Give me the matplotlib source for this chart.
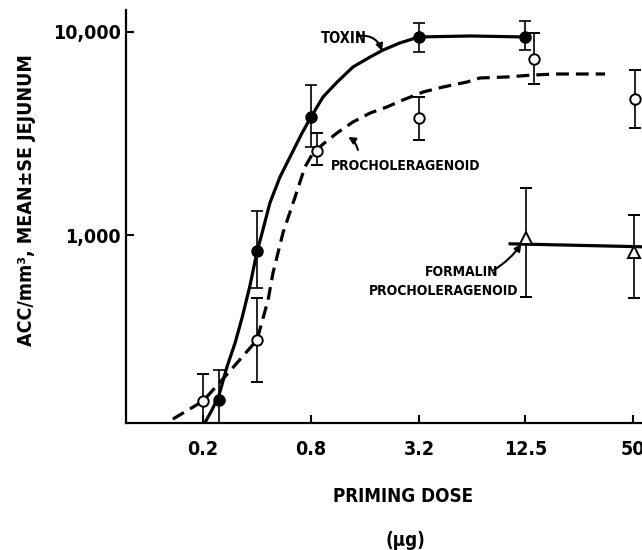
import numpy as np
import matplotlib.pyplot as plt
from matplotlib.ticker import NullLocator, FixedLocator, FixedFormatter

# Werte: Dosis (µg) und ACC/mm3
toxin_dose = [0.246, 0.4, 0.8, 3.2, 12.5]
toxin_mean = [154, 834, 3811, 9449, 9449]
toxin_hi = [216, 1313, 5480, 11075, 11330]
toxin_lo = [90, 548, 2711, 7969, 8151]

pro_dose = [0.2, 0.4, 0.864, 3.2, 14.0, 51.2]
pro_mean = [152, 304, 2594, 3768, 7362, 4677]
pro_hi = [206, 490, 3176, 4784, 9887, 6504]
pro_lo = [90, 189, 2213, 2938, 5545, 3366]

form_dose = [12.6, 50.5]
form_mean = [966, 824]
form_hi = [1706, 1256]
form_lo = [495, 490]

# von Hand gezeichnete Kurven
toxin_curve_x = [0.205, 0.224, 0.246, 0.272, 0.302, 0.330, 0.365, 0.4, 0.427, 0.472,
                 0.537, 0.627, 0.713, 0.8, 0.933, 1.12, 1.37, 1.71, 2.02, 2.50, 3.2,
                 6.14, 12.5]
toxin_curve_y = [119, 137, 163, 224, 294, 390, 560, 825, 1023, 1438,
                 1930, 2535, 3180, 3812, 4784, 5672, 6723, 7533, 8153, 8829, 9449,
                 9556, 9449]

pro_curve_x = [0.136, 0.2, 0.283, 0.4, 0.461, 0.491, 0.558, 0.652, 0.740, 0.821,
               0.921, 1.116, 1.37, 1.71, 2.12, 2.60, 3.37, 4.35, 5.93, 6.99, 9.88,
               13.8, 18.8, 34.8]
pro_curve_y = [124, 152, 214, 304, 478, 650, 1023, 1538, 2163, 2535,
               2776, 3180, 3603, 3990, 4273, 4624, 5063, 5357, 5672, 5934, 6003,
               6139, 6210, 6210]

form_line_x = [10.3, 55.9]
form_line_y = [905, 875]

x_ticks = [0.2, 0.8, 3.2, 12.5, 50]
x_ticklabels = ['0.2', '0.8', '3.2', '12.5', '50']
y_ticks = [1000, 10000]
y_ticklabels = ['1,000', '10,000']

plt.rcParams['font.family'] = ['DejaVu Sans']
plt.rcParams['font.stretch'] = 'condensed'
plt.rcParams['font.weight'] = 'bold'

fig = plt.figure(figsize=(6.42, 5.5), dpi=100)
ax = fig.add_axes([126 / 642, 127 / 550, 516 / 642, 413 / 550])
ax.set_xscale('log')
ax.set_yscale('log')
ax.set_xlim(0.0745, 55.9)
ax.set_ylim(118.6, 12830)

# Kurven
ax.plot(toxin_curve_x, toxin_curve_y, color='black', lw=2.3, solid_capstyle='round', zorder=2)
ax.plot(pro_curve_x, pro_curve_y, color='black', lw=2.3, dashes=(4, 2.2), zorder=2)
ax.plot(form_line_x, form_line_y, color='black', lw=2.3, zorder=2)


def err(mean, lo, hi):
    mean = np.array(mean)
    return [mean - np.array(lo), np.array(hi) - mean]


eb = dict(ecolor='black', elinewidth=1.2, capsize=4.5, capthick=1.2, ls='none', zorder=3)
ax.errorbar(toxin_dose, toxin_mean, yerr=err(toxin_mean, toxin_lo, toxin_hi),
            marker='o', ms=8, mfc='black', mec='black', **eb)
ax.errorbar(pro_dose, pro_mean, yerr=err(pro_mean, pro_lo, pro_hi),
            marker='o', ms=7.5, mfc='white', mec='black', mew=1.4, **eb)
ax.errorbar(form_dose, form_mean, yerr=err(form_mean, form_lo, form_hi),
            marker='^', ms=9, mfc='white', mec='black', mew=1.4, **eb)

# Achsen
for side in ['top', 'right']:
    ax.spines[side].set_visible(False)
for side in ['left', 'bottom']:
    ax.spines[side].set_linewidth(1.6)
ax.xaxis.set_major_locator(FixedLocator(x_ticks))
ax.xaxis.set_major_formatter(FixedFormatter(x_ticklabels))
ax.yaxis.set_major_locator(FixedLocator(y_ticks))
ax.yaxis.set_major_formatter(FixedFormatter(y_ticklabels))
ax.xaxis.set_minor_locator(NullLocator())
ax.yaxis.set_minor_locator(NullLocator())
ax.tick_params(axis='x', direction='in', length=6, width=1.5, pad=12, labelsize=14)
ax.tick_params(axis='y', direction='in', length=6, width=1.5, pad=4, labelsize=14)

# Beschriftungen
arrow = dict(arrowstyle='-|>', color='black', lw=1.5, shrinkA=0, shrinkB=0, mutation_scale=10)
ax.text(1.22, 9237, 'TOXIN', ha='center', va='center', fontsize=10.5)
ax.annotate('', xy=(1.99, 8060), xytext=(1.46, 9556),
            arrowprops=dict(arrow, connectionstyle='arc3,rad=-0.4'))
ax.text(2.68, 2188, 'PROCHOLERAGENOID', ha='center', va='center', fontsize=10)
ax.annotate('', xy=(1.29, 3041), xytext=(1.46, 2624),
            arrowprops=dict(arrow, connectionstyle='arc3,rad=0.2'))
ax.text(5.56, 658, 'FORMALIN', ha='center', va='center', fontsize=10)
ax.text(4.36, 530, 'PROCHOLERAGENOID', ha='center', va='center', fontsize=10)
ax.annotate('', xy=(11.9, 904), xytext=(8.38, 673),
            arrowprops=dict(arrow, connectionstyle='arc3,rad=0.1'))

fig.text(27 / 642, 1 - 200 / 550, 'ACC/mm³, MEAN±SE JEJUNUM', rotation=90,
         ha='center', va='center', fontsize=14)
fig.text(403 / 642, 1 - 497 / 550, 'PRIMING DOSE', ha='center', va='center', fontsize=13.5)
fig.text(405 / 642, 1 - 540 / 550, '(µg)', ha='center', va='center', fontsize=13.5)

fig.savefig('out.png', dpi=100)
